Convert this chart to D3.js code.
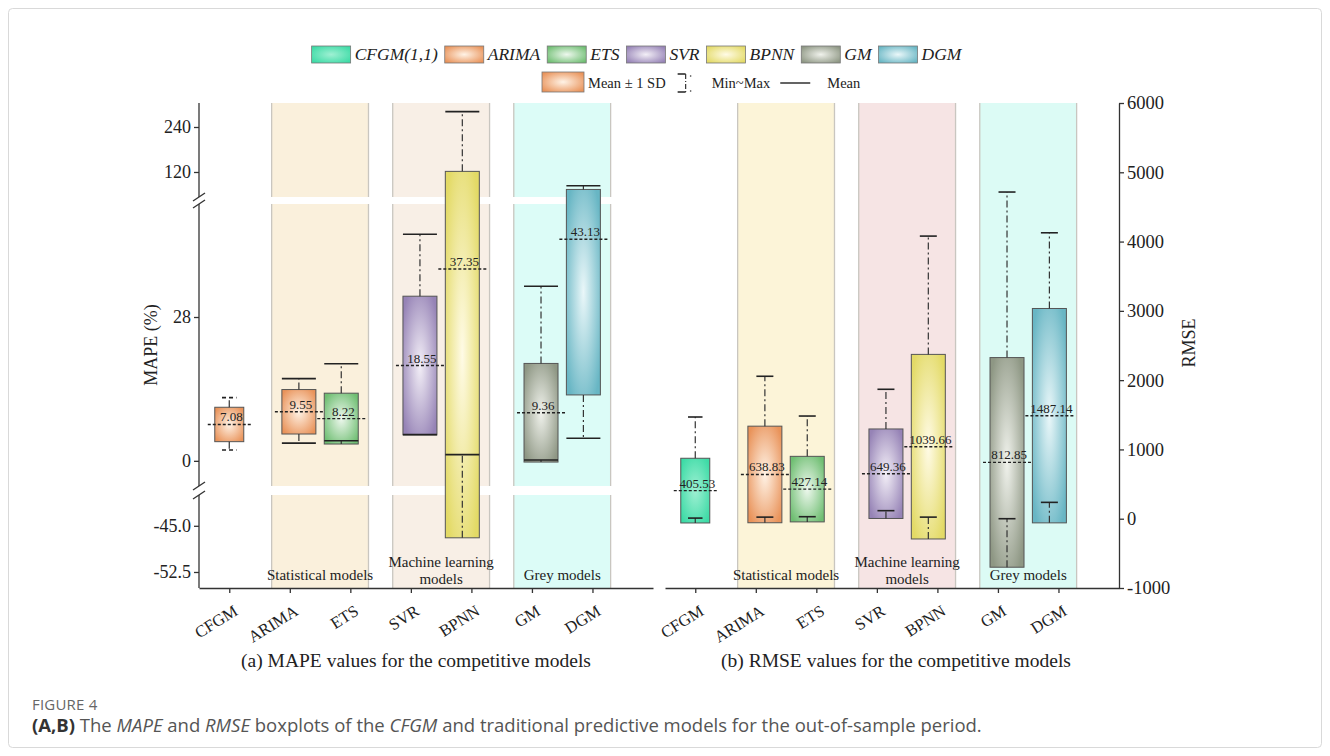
<!DOCTYPE html>
<html>
<head>
<meta charset="utf-8">
<script src="https://cdn.jsdelivr.net/npm/d3@7"></script>
<style>
  body { margin: 0; background: #fff; }
  svg { display: block; font-family: "Liberation Serif", "Times New Roman", serif; }
</style>
</head>
<body>
<svg id="chart" width="1330" height="756"></svg>
<script>
// ---- data ----
const models = ['CFGM', 'ARIMA', 'ETS', 'SVR', 'BPNN', 'GM', 'DGM'];
const legendNames = ['CFGM(1,1)', 'ARIMA', 'ETS', 'SVR', 'BPNN', 'GM', 'DGM'];

// (a) MAPE (%) : mean, sd, min, max
const mapeMean = [7.08, 9.55, 8.22, 18.55, 37.35, 9.36, 43.13];
const mapeSD   = [3.35, 4.33, 4.95, 13.5, 84.3, 9.6, 30.3];
const mapeMin  = [2.1, 3.45, 3.9, 5.1, 1.2, 0.15, 4.4];
const mapeMax  = [12.3, 16.0, 18.9, 44.1, 281, 34.0, 83.5];

// (b) RMSE : mean, sd, min, max
const rmseMean = [405.53, 638.83, 427.14, 649.36, 1039.66, 812.85, 1487.14];
const rmseSD   = [467, 697, 473, 646, 1332, 1513, 1547];
const rmseMin  = [9, 23, 29, 116, 23, 0, 236];
const rmseMax  = [1468, 2056, 1482, 1868, 4079, 4715, 4127];

const groups = [
  { label: ['Statistical models'], members: [1, 2] },
  { label: ['Machine learning', 'models'], members: [3, 4] },
  { label: ['Grey models'], members: [5, 6] }
];

const mapeTicks = [240, 120, 28, 0, -45.0, -52.5];
const mapeTickLabels = ['240', '120', '28', '0', '-45.0', '-52.5'];
const rmseTicks = [6000, 5000, 4000, 3000, 2000, 1000, 0, -1000];

// broken MAPE axis: value pieces
const mapePieces = [[-55.1, -40], [-4.9, 50], [53.3, 304]];

// ---- styles ----
const baseColors   = ['#3ddba6', '#e9935a', '#6fbe72', '#9683b6', '#e3da66', '#8e9784', '#68b6c4'];
const centerColors = ['#9ff0d3', '#fff3e6', '#eef8ee', '#f3eff7', '#fffbe6', '#f0f2ec', '#eaf7f9'];

const svg = d3.select('#chart');
const defs = svg.append('defs');
baseColors.forEach((c, i) => {
  const g = defs.append('radialGradient').attr('id', 'grad' + i)
    .attr('cx', 0.5).attr('cy', 0.5).attr('r', 0.62);
  g.append('stop').attr('offset', '0%').attr('stop-color', centerColors[i]);
  g.append('stop').attr('offset', '100%').attr('stop-color', c);
});

// figure frame
svg.append('rect')
  .attr('x', 8.5).attr('y', 8.5).attr('width', 1313).attr('height', 739).attr('rx', 4)
  .attr('fill', 'none').attr('stroke', '#d9d9d9');

const panelTop = 103, panelBottom = 588;

function boxCenter(xs, i) {
  const p = xs(i + 1);
  const g = groups.find(g => g.members.includes(i));
  if (!g) return p;
  const gc = xs(d3.mean(g.members) + 1);
  return p + (gc - p) * 0.3;
}

function drawPanel(cfg) {
  const xs = d3.scaleLinear().domain([0.5, 8]).range([cfg.x0, cfg.x1]);
  const y = cfg.y;
  const step = xs(2) - xs(1);
  const g = svg.append('g');

  // group bands
  groups.forEach((grp, gi) => {
    const gc = xs(d3.mean(grp.members) + 1);
    const bx0 = gc - 0.8 * step, bx1 = gc + 0.8 * step;
    cfg.bandSegs.forEach(([a, b]) => {
      g.append('rect')
        .attr('x', bx0).attr('y', b).attr('width', bx1 - bx0).attr('height', a - b)
        .attr('fill', cfg.bandColors[gi]);
      [bx0, bx1].forEach(xx => g.append('line')
        .attr('x1', xx).attr('x2', xx).attr('y1', b).attr('y2', a)
        .attr('stroke', '#c9c6c0').attr('stroke-width', 1.3));
    });
    const lines = grp.label;
    const base = lines.length === 1 ? 580 : 567;
    lines.forEach((t, li) => g.append('text')
      .attr('x', gc).attr('y', base + li * 17)
      .attr('text-anchor', 'middle').attr('font-size', 15).attr('fill', '#222')
      .text(t));
  });

  models.forEach((m, i) => {
    const cx = boxCenter(xs, i);
    const single = !groups.some(gr => gr.members.includes(i));
    const bw = single ? 29 : 34;
    const mean = cfg.mean[i], sd = cfg.sd[i];
    const yTop = y(mean + sd), yBot = y(mean - sd);

    g.append('rect')
      .attr('x', cx - bw / 2).attr('y', yTop).attr('width', bw).attr('height', yBot - yTop)
      .attr('fill', `url(#grad${cfg.colorIdx[i]})`)
      .attr('stroke', '#555').attr('stroke-width', 1);

    // whiskers
    [[yTop, y(cfg.max[i])], [yBot, y(cfg.min[i])]].forEach(([a, b]) => {
      g.append('line').attr('x1', cx).attr('x2', cx).attr('y1', a).attr('y2', b)
        .attr('stroke', '#333').attr('stroke-width', 1.2).attr('stroke-dasharray', '7,3,2,3');
    });
    const cw = bw * (single ? 0.5 : cfg.capRatio);
    [cfg.max[i], cfg.min[i]].forEach(v => {
      g.append('line')
        .attr('x1', cx - cw / 2).attr('x2', cx + cw / 2).attr('y1', y(v)).attr('y2', y(v))
        .attr('stroke', '#222').attr('stroke-width', 1.6)
        .attr('stroke-dasharray', single && cfg.dashedSingleCap ? '4,3' : null);
    });

    // mean line + label
    const ym = y(mean);
    g.append('line')
      .attr('x1', cx - bw / 2 - 7).attr('x2', cx + bw / 2 + 7).attr('y1', ym).attr('y2', ym)
      .attr('stroke', '#222').attr('stroke-width', 1.4).attr('stroke-dasharray', '3,2');
    g.append('text')
      .attr('x', cx + 2).attr('y', ym - 3)
      .attr('text-anchor', 'middle').attr('font-size', 13).attr('fill', '#222')
      .text(mean.toFixed(2));
  });

  // x axis
  const xAxis = g.append('g').attr('transform', `translate(0,${panelBottom})`)
    .call(d3.axisBottom(xs).tickValues(d3.range(1, 8)).tickFormat(d => models[d - 1])
      .tickSize(5).tickSizeOuter(0));
  xAxis.selectAll('path, line').attr('stroke', '#333').attr('stroke-width', 1.3);
  xAxis.selectAll('text')
    .attr('x', 0).attr('y', 0).attr('dy', '0.35em')
    .attr('transform', 'translate(6,21) rotate(-32)')
    .attr('text-anchor', 'end')
    .attr('font-size', 16.5).attr('font-family', '"Liberation Serif", serif').attr('fill', '#222');
  return g;
}

// ---- (a) MAPE panel with broken axis ----
const mapeSegPx = [[588, 495], [486, 204], [197, 103]];
const yL = d3.scaleLinear()
  .domain(mapePieces.flat())
  .range(mapeSegPx.flat());

drawPanel({
  x0: 199, x1: 653, y: yL,
  mean: mapeMean, sd: mapeSD, min: mapeMin, max: mapeMax,
  colorIdx: [1, 1, 2, 3, 4, 5, 6],
  bandColors: ['#faf0dc', '#f8efe6', '#dcfcf7'],
  bandSegs: mapeSegPx,
  capRatio: 1, dashedSingleCap: true
});

const leftAxis = svg.append('g').attr('transform', 'translate(199,0)')
  .call(d3.axisLeft(yL).tickValues(mapeTicks).tickFormat((d, i) => mapeTickLabels[i])
    .tickSize(5).tickPadding(3));
leftAxis.select('.domain').remove();
leftAxis.selectAll('line').attr('stroke', '#333').attr('stroke-width', 1.3);
leftAxis.selectAll('text').attr('font-size', 18)
  .attr('font-family', '"Liberation Serif", serif').attr('fill', '#222');
mapeSegPx.forEach(([a, b]) => leftAxis.append('line')
  .attr('x1', 0).attr('x2', 0).attr('y1', a).attr('y2', b)
  .attr('stroke', '#333').attr('stroke-width', 1.3));
[495, 486, 204, 197].forEach(yy => leftAxis.append('line')
  .attr('x1', -6).attr('x2', 6).attr('y1', yy + 4).attr('y2', yy - 4)
  .attr('stroke', '#333').attr('stroke-width', 1.3));

svg.append('text')
  .attr('transform', 'translate(157,345) rotate(-90)')
  .attr('text-anchor', 'middle').attr('font-size', 18).attr('fill', '#222')
  .text('MAPE (%)');

// ---- (b) RMSE panel ----
const yR = d3.scaleLinear().domain([-1000, 6000]).range([panelBottom, panelTop]);

drawPanel({
  x0: 665, x1: 1119, y: yR,
  mean: rmseMean, sd: rmseSD, min: rmseMin, max: rmseMax,
  colorIdx: [0, 1, 2, 3, 4, 5, 6],
  bandColors: ['#fcf4d8', '#f6e4e4', '#dcfbf5'],
  bandSegs: [[panelBottom, panelTop]],
  capRatio: 0.5, dashedSingleCap: false
});

const rightAxis = svg.append('g').attr('transform', 'translate(1119,0)')
  .call(d3.axisRight(yR).tickValues(rmseTicks).tickFormat(d => String(d))
    .tickSize(5).tickSizeOuter(0).tickPadding(3));
rightAxis.selectAll('path, line').attr('stroke', '#333').attr('stroke-width', 1.3);
rightAxis.selectAll('text').attr('font-size', 18.5)
  .attr('font-family', '"Liberation Serif", serif').attr('fill', '#222');

svg.append('text')
  .attr('transform', 'translate(1195,343) rotate(-90)')
  .attr('text-anchor', 'middle').attr('font-size', 18).attr('fill', '#222')
  .text('RMSE');

// ---- legend ----
const leg = svg.append('g');
let lx = 0;
const row1 = leg.append('g');
legendNames.forEach((n, i) => {
  row1.append('rect').attr('x', lx).attr('y', 46).attr('width', 39).attr('height', 17)
    .attr('fill', `url(#grad${i})`).attr('stroke', '#777').attr('stroke-width', 0.8);
  const t = row1.append('text').attr('x', lx + 43).attr('y', 60)
    .attr('font-size', 17.5).attr('font-style', 'italic').attr('fill', '#222').text(n);
  lx += 43 + t.node().getComputedTextLength() + 7;
});
row1.attr('transform', `translate(${636.5 - (lx - 7) / 2},0)`);

const row2 = leg.append('g');
let rx = 0;
row2.append('rect').attr('x', rx).attr('y', 72).attr('width', 42).attr('height', 20)
  .attr('fill', 'url(#grad1)').attr('stroke', '#777').attr('stroke-width', 0.8);
rx += 46;
let t2 = row2.append('text').attr('x', rx).attr('y', 88).attr('font-size', 14.5).attr('fill', '#222')
  .text('Mean ± 1 SD');
rx += t2.node().getComputedTextLength() + 12;
row2.append('path').attr('d', `M${rx},74H${rx + 8}M${rx},92H${rx + 8}`)
  .attr('stroke', '#222').attr('stroke-width', 1.4).attr('fill', 'none');
row2.append('line').attr('x1', rx + 8).attr('x2', rx + 8).attr('y1', 74).attr('y2', 92)
  .attr('stroke', '#333').attr('stroke-width', 1.2).attr('stroke-dasharray', '5,2,1,2');
row2.append('circle').attr('cx', rx + 13).attr('cy', 76).attr('r', 0.8).attr('fill', '#333');
row2.append('circle').attr('cx', rx + 13).attr('cy', 91).attr('r', 0.8).attr('fill', '#333');
rx += 34;
t2 = row2.append('text').attr('x', rx).attr('y', 88).attr('font-size', 14.5).attr('fill', '#222')
  .text('Min~Max');
rx += t2.node().getComputedTextLength() + 10;
row2.append('line').attr('x1', rx).attr('x2', rx + 30).attr('y1', 83).attr('y2', 83)
  .attr('stroke', '#222').attr('stroke-width', 1.4);
rx += 47;
row2.append('text').attr('x', rx).attr('y', 88).attr('font-size', 14.5).attr('fill', '#222')
  .text('Mean');
row2.attr('transform', 'translate(542,0)');

// ---- sub captions ----
svg.append('text').attr('x', 416).attr('y', 667).attr('text-anchor', 'middle')
  .attr('font-size', 19.5).attr('fill', '#222').text('(a) MAPE values for the competitive models');
svg.append('text').attr('x', 896).attr('y', 667).attr('text-anchor', 'middle')
  .attr('font-size', 19.5).attr('fill', '#222').text('(b) RMSE values for the competitive models');

// ---- figure caption ----
svg.append('text').attr('x', 32).attr('y', 710)
  .attr('font-family', '"Open Sans", "Noto Sans", sans-serif').attr('font-size', 15)
  .attr('letter-spacing', 0.2).attr('fill', '#666').text('FIGURE 4');
const cap = svg.append('text').attr('x', 32).attr('y', 732)
  .attr('font-family', '"Open Sans", "Noto Sans", sans-serif').attr('font-size', 18.5).attr('fill', '#555');
[
  ['(A,B)', 'bold', 'normal'], [' The ', 'normal', 'normal'], ['MAPE', 'normal', 'italic'],
  [' and ', 'normal', 'normal'], ['RMSE', 'normal', 'italic'],
  [' boxplots of the ', 'normal', 'normal'], ['CFGM', 'normal', 'italic'],
  [' and traditional predictive models for the out-of-sample period.', 'normal', 'normal']
].forEach(([t, w, s]) => cap.append('tspan').attr('font-weight', w).attr('font-style', s)
  .attr('fill', w === 'bold' ? '#333' : '#555').text(t));
</script>
</body>
</html>
